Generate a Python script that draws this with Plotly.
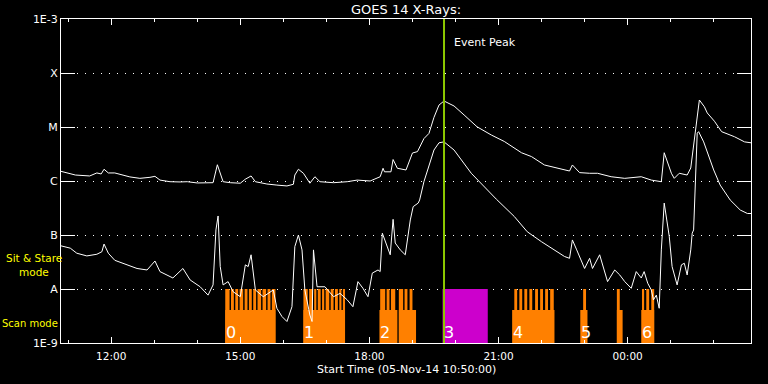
import plotly.graph_objects as go

# ---------------- data ----------------
# GOES 14 long channel (1-8 A), times HH:MM from 05-Nov-14 10:50 (after midnight = 06-Nov)
long_times = ["10:50","11:10","11:30","11:40","11:46","11:50","11:56","12:05","12:26","12:40",
              "12:54","13:01","13:08","13:22","13:36","13:46","14:00","14:22","14:28","14:32",
              "14:36","14:46","15:00","15:07","15:15","15:21","15:37","15:51","16:05","16:14",
              "16:16","16:21","16:28","16:37","16:44","16:51","17:10","17:29","17:43","18:01",
              "18:15","18:19","18:21","18:30","18:33","18:39","18:51","19:00","19:07","19:16",
              "19:23","19:30","19:37","19:44","19:58","20:12","20:30","20:50","21:08","21:32",
              "21:46","22:04","22:22","22:39","22:43","22:53","23:07","23:18","23:37","23:56",
              "00:19","00:33","00:47","00:51","01:01","01:05","01:12","01:23","01:28","01:30",
              "01:36","01:40","01:47","01:51","02:01","02:11","02:29","02:43","02:52"]
long_flux = [1.51e-6,1.29e-6,1.24e-6,1.41e-6,1.35e-6,1.65e-6,1.41e-6,1.41e-6,1.19e-6,1.12e-6,
             1.17e-6,1.22e-6,1.04e-6,9.7e-7,9.6e-7,9.7e-7,9.2e-7,9.3e-7,2.0e-6,1.39e-6,
             9.7e-7,9.3e-7,9.1e-7,1.08e-6,1.24e-6,9.7e-7,8.8e-7,8.4e-7,8.1e-7,8.7e-7,
             1.29e-6,1.65e-6,1.39e-6,9.1e-7,1.20e-6,9.7e-7,9.3e-7,9.7e-7,1.04e-6,1.0e-6,
             1.20e-6,1.72e-6,1.48e-6,1.48e-6,2.5e-6,1.72e-6,1.60e-6,3.3e-6,3.5e-6,6.1e-6,
             7.6e-6,1.51e-5,2.55e-5,3.03e-5,2.45e-5,1.67e-5,1.01e-5,7.1e-6,5.4e-6,3.34e-6,
             2.83e-6,1.98e-6,1.72e-6,1.53e-6,1.98e-6,1.43e-6,1.39e-6,1.39e-6,1.20e-6,1.12e-6,
             1.20e-6,1.04e-6,9.7e-7,3.34e-6,1.39e-6,1.12e-6,1.39e-6,1.29e-6,1.74e-6,2.8e-6,
             1.1e-5,3.16e-5,2.37e-5,1.82e-5,1.28e-5,8.2e-6,6.6e-6,5.3e-6,5.1e-6]

# GOES 14 short channel (0.5-4 A)
short_times = ["10:50","11:03","11:12","11:26","11:40","11:47","11:50","11:56","12:05","12:22",
               "12:36","12:50","13:01","13:08","13:26","13:40","13:50","14:04","14:15","14:22",
               "14:26","14:29","14:32","14:36","14:43","14:50","15:00","15:07","15:11","15:15",
               "15:21","15:32","15:46","15:51","15:58","16:05","16:12","16:16","16:21","16:26",
               "16:30","16:37","16:40","16:42","16:47","16:58","17:10","17:19","17:29","17:37",
               "17:44","17:51","17:58","18:04","18:12","18:15","18:18","18:29","18:33","18:36",
               "18:43","18:50","18:57","19:01","19:08","19:10","19:16","19:30","19:37","19:44",
               "19:58","20:22","20:44","20:57","21:22","21:40","22:00","22:14","22:32","22:39",
               "22:43","22:49","23:00","23:07","23:11","23:21","23:28","23:32","23:42","23:49",
               "23:56","00:05","00:12","00:19","00:23","00:28","00:33","00:36","00:40","00:44",
               "00:47","00:51","00:58","01:02","01:09","01:15","01:19","01:23","01:28","01:30",
               "01:32","01:35","01:37","01:39","01:46","02:00","02:09","02:23","02:37","02:47",
               "02:52"]
short_flux = [6.3e-8,5.7e-8,4.6e-8,4.1e-8,4.4e-8,4.9e-8,6.8e-8,4.6e-8,3.4e-8,2.8e-8,
              2.4e-8,2.25e-8,3.3e-8,2.1e-8,1.6e-8,2.4e-8,1.47e-8,1.1e-8,7.7e-9,1.19e-8,
              1.24e-7,2.25e-7,2.6e-8,1.19e-8,1.37e-8,8.9e-9,7.2e-9,2.8e-8,2.6e-8,4.3e-8,
              9.6e-9,7.2e-9,9.6e-9,4.4e-9,3.1e-9,2.5e-9,4.7e-9,6.1e-8,1.0e-7,5.3e-8,
              9.6e-9,3.3e-9,2.5e-9,5.3e-8,1.1e-8,1.1e-8,7.2e-9,8.3e-9,6.3e-9,4.7e-9,
              1.37e-8,1.03e-8,7.2e-9,1.97e-8,2.25e-8,2.1e-8,1.08e-7,4.3e-8,1.95e-7,7.1e-8,
              5.3e-8,4.3e-8,1.9e-7,3.35e-7,3.9e-7,4.45e-7,9.7e-7,3.75e-6,5.1e-6,5.3e-6,
              3.75e-6,1.39e-6,6.8e-7,4.6e-7,2.2e-7,1.15e-7,7.5e-8,5.7e-8,4.0e-8,3.7e-8,
              8.1e-8,5.3e-8,2.4e-8,3.7e-8,2.4e-8,4.3e-8,2.1e-8,1.37e-8,2.25e-8,1.82e-8,
              1.37e-8,1.03e-8,2.1e-8,1.6e-8,2.1e-8,1.28e-8,9.6e-9,6.3e-9,7.7e-9,4.4e-9,
              5.3e-8,3.9e-7,9.5e-8,2.6e-8,1.19e-8,2.8e-8,3.0e-8,1.82e-8,5.3e-8,1.08e-7,
              1.24e-7,1.04e-6,7.7e-6,8.2e-6,5.3e-6,1.6e-6,8.4e-7,4.45e-7,2.9e-7,2.5e-7,
              2.5e-7]

# Instrument mode timeline
scan_start = ["14:39","16:28","18:14","18:41","21:19","22:54","23:45","00:19","00:53"]
scan_end   = ["15:49","17:26","18:39","19:05","22:18","23:04","23:53","00:37","00:54"]
stare_start = ["14:39","14:47","14:53","14:59","15:06","15:12","15:18","15:24","15:31","15:38","15:44",
               "16:28","16:36","16:43","16:48","16:54","16:59","17:06","17:12","17:18","17:23",
               "18:15","18:24","18:30","18:41","18:49","18:56",
               "21:22","21:29","21:36","21:43","21:51","21:58","22:05","22:12",
               "22:58","23:45","00:20","00:26","00:33"]
stare_end   = ["14:45","14:51","14:57","15:04","15:10","15:16","15:22","15:29","15:36","15:42","15:49",
               "16:34","16:41","16:46","16:52","16:57","17:04","17:10","17:16","17:21","17:26",
               "18:22","18:28","18:36","18:47","18:53","19:00",
               "21:26","21:33","21:40","21:47","21:55","22:02","22:09","22:17",
               "23:02","23:49","00:23","00:30","00:37"]
event_start = ["19:42"]
event_end   = ["20:45"]

block_labels = ["0","1","2","3","4","5","6"]
block_times  = ["14:39","16:28","18:14","19:42","21:19","22:54","00:19"]

peak_time = "19:44"
axis_start, axis_end = "10:50", "02:52"

y_tickvals = [1e-9, 1e-8, 1e-7, 1e-6, 1e-5, 1e-4, 1e-3]
y_ticktext = ["1E-9", "A", "B", "C", "M", "X", "1E-3"]

FLOOR = 1e-9
SCAN_LEVEL = 4.1e-9
STARE_LEVEL = 1e-8

FONT = "DejaVu Sans"
ORANGE = "#ff8000"
MAGENTA = "#cc00cc"
GREEN = "#8cc800"
YELLOW = "#ffff00"


def to_dt(hhmm):
    h, m = (int(v) for v in hhmm.split(":"))
    day = 5 if h >= 10 else 6
    return f"2014-11-{day:02d} {h:02d}:{m:02d}"


def band(starts, ends, level):
    xs, ys = [], []
    for s, e in zip(starts, ends):
        xs += [to_dt(s), to_dt(s), to_dt(e), to_dt(e), to_dt(s), None]
        ys += [FLOOR, level, level, FLOOR, FLOOR, None]
    return xs, ys


fig = go.Figure()

for starts, ends, level, color in [(scan_start, scan_end, SCAN_LEVEL, ORANGE),
                                   (stare_start, stare_end, STARE_LEVEL, ORANGE),
                                   (event_start, event_end, STARE_LEVEL, MAGENTA)]:
    bx, by = band(starts, ends, level)
    fig.add_trace(go.Scatter(x=bx, y=by, mode="lines", fill="toself", fillcolor=color,
                             line=dict(width=0, color=color), hoverinfo="skip",
                             showlegend=False))

fig.add_trace(go.Scatter(x=[to_dt(t) for t in long_times], y=long_flux, mode="lines",
                         line=dict(color="white", width=1), showlegend=False))
fig.add_trace(go.Scatter(x=[to_dt(t) for t in short_times], y=short_flux, mode="lines",
                         line=dict(color="white", width=1), showlegend=False))

fig.add_shape(type="line", xref="x", yref="paper", x0=to_dt(peak_time), x1=to_dt(peak_time),
              y0=0, y1=1, line=dict(color=GREEN, width=2), layer="above")

ann = []
for lab, t in zip(block_labels, block_times):
    ann.append(dict(x=to_dt(t), xref="x", xanchor="left", xshift=-1,
                    y=0.033, yref="paper", yanchor="middle", text=lab, showarrow=False,
                    font=dict(family=FONT, size=16, color="white")))
ann.append(dict(x=to_dt(peak_time), xref="x", xanchor="left", xshift=8,
                y=0.926, yref="paper", yanchor="middle", text="Event Peak", showarrow=False,
                font=dict(family=FONT, size=11, color="white")))
ann.append(dict(x=0.5, xref="paper", y=1, yref="paper", yanchor="middle", yshift=10,
                text="GOES 14 X-Rays:", showarrow=False,
                font=dict(family=FONT, size=13, color="white")))
ann.append(dict(x=0.5, xref="paper", y=0, yref="paper", yanchor="middle", yshift=-26,
                text="Start Time (05-Nov-14 10:50:00)", showarrow=False,
                font=dict(family=FONT, size=11, color="white")))
for txt, yp, xs, fs in [("Sit & Stare", 0.262, -27, 10.5), ("mode", 0.220, -27, 10.5),
                        ("Scan mode", 0.059, -31, 10)]:
    ann.append(dict(x=0, xref="paper", xanchor="center", xshift=xs,
                    y=yp, yref="paper", yanchor="middle", text=txt, showarrow=False,
                    font=dict(family=FONT, size=fs, color=YELLOW)))

fig.update_layout(
    width=768, height=384,
    margin=dict(l=61, r=17, t=19, b=41),
    paper_bgcolor="black", plot_bgcolor="black",
    font=dict(family=FONT, size=11, color="white"),
    annotations=ann,
    hovermode=False,
    xaxis=dict(type="date", range=[to_dt(axis_start), to_dt(axis_end)],
               tickformat="%H:%M", tick0="2014-11-05 12:00", dtick=3 * 3600 * 1000,
               ticks="inside", ticklen=6, tickcolor="white", tickwidth=1,
               showline=True, linecolor="white", linewidth=1, mirror="ticks",
               showgrid=False, zeroline=False, ticklabelstandoff=3,
               tickfont=dict(family=FONT, size=10.5, color="white"),
               minor=dict(tick0="2014-11-05 11:00", dtick=3600 * 1000, ticks="inside",
                          ticklen=3, tickcolor="white", showgrid=False)),
    yaxis=dict(type="log", range=[-9, -3], tickvals=y_tickvals, ticktext=y_ticktext,
               ticks="inside", ticklen=14, tickcolor="white", tickwidth=1,
               showline=True, linecolor="white", linewidth=1, mirror="ticks",
               showgrid=True, gridcolor="white", gridwidth=1, griddash="1px,7px",
               zeroline=False,
               tickfont=dict(family=FONT, size=11, color="white")),
)

fig.write_html("out.html", config={"displayModeBar": False},
               post_script="document.body.style.margin='0';")
